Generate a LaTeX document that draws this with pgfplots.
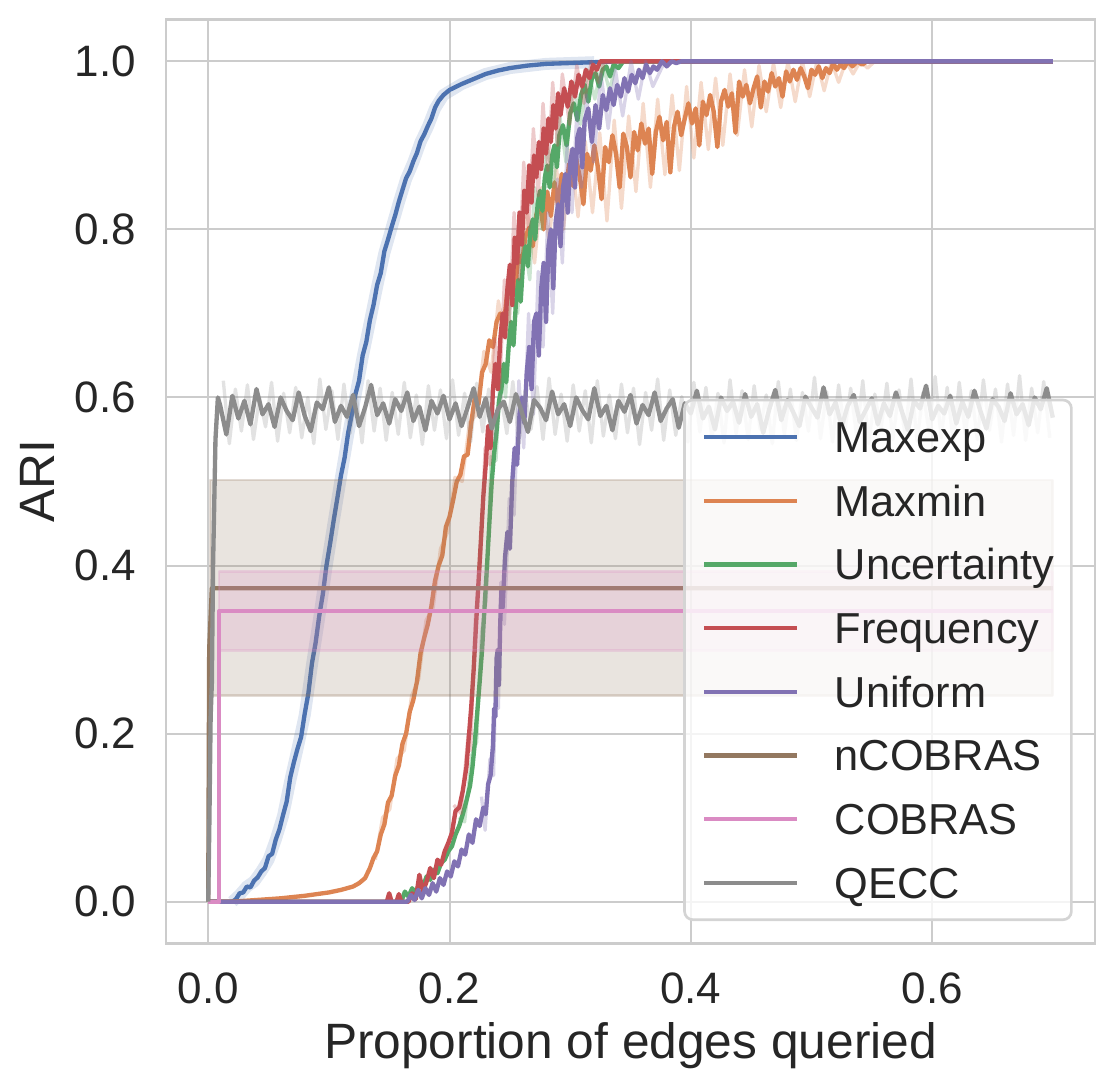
\documentclass[border=0pt]{standalone}
\usepackage{pgfplots}
\pgfplotsset{compat=1.18}
\usepackage{fontspec}
\setmainfont{Liberation Sans}
\definecolor{cMaxexp}{HTML}{4C72B0}
\definecolor{cMaxmin}{HTML}{DD8452}
\definecolor{cUnc}{HTML}{55A868}
\definecolor{cFreq}{HTML}{C44E52}
\definecolor{cUni}{HTML}{8172B3}
\definecolor{cnCOB}{HTML}{937860}
\definecolor{cCOB}{HTML}{DA8BC3}
\definecolor{cQECC}{HTML}{8C8C8C}
\definecolor{gridgray}{HTML}{CCCCCC}
\definecolor{legendgray}{HTML}{D4D4D4}
\definecolor{textgray}{HTML}{262626}
\begin{document}
\begin{tikzpicture}
\begin{axis}[
  scale only axis, width=278.7pt, height=277.3pt,
  xmin=-0.035, xmax=0.735, ymin=-0.05, ymax=1.05,
  xtick={0,0.2,0.4,0.6}, xticklabels={0.0,0.2,0.4,0.6},
  ytick={0,0.2,0.4,0.6,0.8,1.0}, yticklabels={0.0,0.2,0.4,0.6,0.8,1.0},
  major tick length=0pt,
  grid=major, major grid style={line width=0.6pt, color=gridgray},
  axis line style={line width=0.8pt, color=gridgray},
  tick label style={font=\fontsize{13.2}{15}\selectfont, text=textgray, inner sep=0pt},
  yticklabel style={xshift=-8.8pt},
  xticklabel style={yshift=-8.5pt},
  label style={font=\fontsize{14.9}{17}\selectfont, text=textgray},
  xlabel={Proportion of edges queried}, ylabel={ARI},
  xlabel style={at={(axis description cs:0.5,-0.1241)}, anchor=base},
  ylabel style={at={(axis description cs:-0.1195,0.5)}, anchor=base},
  legend style={at={(0.976,0.0245)}, anchor=south east,
    draw=legendgray, line width=0.8pt, rounded corners=2.5pt,
    fill=white, fill opacity=0.8, text opacity=1, draw opacity=1,
    font=\fontsize{13}{15}\selectfont, text=textgray,
    inner xsep=5.25pt, inner ysep=6.45pt, row sep=9.8pt,
    nodes={inner sep=0pt, text height=9.3pt, text depth=0pt},
    /tikz/every odd column/.append style={column sep=10.8pt}},
  legend cell align=left,
  legend image code/.code={\draw[#1, line width=1.3pt, rounded corners=0pt] (0pt,0pt) -- (27.7pt,0pt);},
  every axis plot/.append style={line join=round},
]
% ---------------- Maxexp
\addplot[cMaxexp, line width=3.6pt, opacity=0.18, forget plot] table[row sep=\\] {x y\\
0.020 0.000\\ 0.026 0.008\\ 0.032 0.018\\ 0.038 0.024\\ 0.044 0.036\\ 0.050 0.050\\ 0.056 0.074\\ 0.062 0.102\\ 0.068 0.144\\ 0.074 0.182\\ 0.080 0.222\\ 0.086 0.282\\ 0.092 0.338\\ 0.098 0.398\\ 0.104 0.452\\ 0.110 0.505\\ 0.116 0.556\\ 0.122 0.602\\ 0.128 0.648\\ 0.134 0.690\\ 0.140 0.732\\ 0.146 0.772\\ 0.152 0.802\\ 0.158 0.832\\ 0.164 0.860\\ 0.170 0.880\\ 0.176 0.904\\ 0.182 0.922\\ 0.188 0.944\\ 0.195 0.960\\ 0.210 0.973\\ 0.230 0.985\\ 0.250 0.992\\ 0.280 0.997\\ 0.320 0.999\\
};
\addplot[cMaxexp, line width=1.3pt] table[row sep=\\] {x y\\
0 0\\ 0.020 0.000\\ 0.023 0.003\\ 0.026 0.010\\ 0.029 0.011\\ 0.032 0.018\\ 0.035 0.017\\ 0.038 0.025\\ 0.041 0.029\\ 0.044 0.036\\ 0.047 0.040\\ 0.050 0.054\\ 0.053 0.057\\ 0.056 0.074\\ 0.059 0.086\\ 0.062 0.103\\ 0.065 0.119\\ 0.068 0.148\\ 0.071 0.166\\ 0.074 0.182\\ 0.077 0.196\\ 0.080 0.224\\ 0.083 0.248\\ 0.086 0.284\\ 0.089 0.308\\ 0.092 0.340\\ 0.095 0.366\\ 0.098 0.400\\ 0.101 0.426\\ 0.104 0.454\\ 0.107 0.480\\ 0.110 0.507\\ 0.113 0.528\\ 0.116 0.558\\ 0.119 0.580\\ 0.122 0.604\\ 0.125 0.620\\ 0.128 0.650\\ 0.131 0.666\\ 0.134 0.692\\ 0.137 0.710\\ 0.140 0.734\\ 0.143 0.748\\ 0.146 0.774\\ 0.149 0.788\\ 0.152 0.803\\ 0.155 0.817\\ 0.158 0.833\\ 0.161 0.847\\ 0.164 0.861\\ 0.167 0.869\\ 0.170 0.881\\ 0.173 0.891\\ 0.176 0.905\\ 0.179 0.913\\ 0.182 0.923\\ 0.185 0.932\\ 0.188 0.945\\ 0.191 0.953\\ 0.195 0.960\\ 0.200 0.966\\ 0.210 0.973\\ 0.220 0.979\\ 0.230 0.985\\ 0.240 0.989\\ 0.250 0.992\\ 0.265 0.995\\ 0.280 0.997\\ 0.300 0.998\\ 0.320 0.999\\ 0.340 1.000\\ 0.700 1.000\\
};
\addlegendentry{Maxexp}
% ---------------- Maxmin
\addplot[cMaxmin, line width=1.0pt, opacity=0.3, forget plot] table[row sep=\\] {x y\\
0.1385 0.050\\ 0.1445 0.100\\ 0.1505 0.110\\ 0.1565 0.170\\ 0.1625 0.180\\ 0.1685 0.245\\ 0.1745 0.265\\ 0.1805 0.335\\ 0.1865 0.350\\ 0.1925 0.420\\ 0.1985 0.440\\ 0.2045 0.505\\ 0.2105 0.500\\ 0.2165 0.570\\ 0.2225 0.580\\ 0.2285 0.655\\ 0.2345 0.630\\ 0.2405 0.715\\ 0.2465 0.670\\ 0.2525 0.760\\ 0.2585 0.730\\ 0.2645 0.820\\ 0.2705 0.760\\ 0.2765 0.850\\ 0.2825 0.785\\ 0.2885 0.875\\ 0.2945 0.800\\ 0.3005 0.895\\ 0.3065 0.815\\ 0.3125 0.905\\ 0.3185 0.820\\ 0.3245 0.915\\ 0.3305 0.810\\ 0.3365 0.930\\ 0.3425 0.825\\ 0.3485 0.935\\ 0.3545 0.845\\ 0.3605 0.950\\ 0.3665 0.850\\ 0.3725 0.955\\ 0.3785 0.865\\ 0.3845 0.960\\ 0.3905 0.870\\ 0.3965 0.970\\ 0.4025 0.885\\ 0.4085 0.975\\ 0.4145 0.895\\ 0.4205 0.980\\ 0.4265 0.900\\ 0.4325 0.985\\ 0.4385 0.912\\ 0.4445 0.990\\ 0.4505 0.922\\ 0.4565 0.995\\ 0.4625 0.940\\ 0.4685 0.998\\ 0.4745 0.945\\ 0.4805 1.000\\ 0.4865 0.952\\ 0.4925 1.000\\ 0.4985 0.958\\ 0.5045 1.000\\ 0.5105 0.965\\ 0.5165 1.000\\ 0.5225 0.975\\ 0.5285 1.000\\ 0.5345 0.985\\ 0.5405 1.000\\ 0.5465 0.992\\ 0.5525 1.000\\
};
\addplot[cMaxmin, line width=1.3pt] table[row sep=\\] {x y\\
0 0\\ 0.020 0.000\\ 0.040 0.002\\ 0.060 0.004\\ 0.080 0.007\\ 0.100 0.011\\ 0.110 0.014\\ 0.120 0.018\\ 0.125 0.022\\ 0.130 0.028\\ 0.134 0.040\\ 0.137 0.052\\ 0.140 0.060\\ 0.143 0.080\\ 0.146 0.092\\ 0.149 0.118\\ 0.152 0.126\\ 0.155 0.150\\ 0.158 0.162\\ 0.161 0.188\\ 0.164 0.200\\ 0.167 0.226\\ 0.170 0.240\\ 0.173 0.262\\ 0.176 0.296\\ 0.179 0.314\\ 0.182 0.330\\ 0.185 0.352\\ 0.188 0.382\\ 0.191 0.400\\ 0.194 0.412\\ 0.197 0.446\\ 0.200 0.458\\ 0.203 0.478\\ 0.206 0.500\\ 0.209 0.508\\ 0.212 0.530\\ 0.215 0.532\\ 0.218 0.570\\ 0.221 0.600\\ 0.224 0.592\\ 0.227 0.630\\ 0.230 0.640\\ 0.233 0.668\\ 0.236 0.660\\ 0.239 0.690\\ 0.242 0.700\\ 0.245 0.686\\ 0.248 0.728\\ 0.251 0.740\\ 0.254 0.722\\ 0.257 0.770\\ 0.260 0.760\\ 0.263 0.792\\ 0.266 0.802\\ 0.269 0.780\\ 0.272 0.818\\ 0.275 0.830\\ 0.278 0.800\\ 0.281 0.845\\ 0.284 0.816\\ 0.287 0.856\\ 0.290 0.828\\ 0.293 0.866\\ 0.296 0.836\\ 0.299 0.878\\ 0.302 0.852\\ 0.305 0.884\\ 0.308 0.862\\ 0.311 0.830\\ 0.314 0.890\\ 0.317 0.870\\ 0.320 0.900\\ 0.323 0.874\\ 0.326 0.836\\ 0.329 0.898\\ 0.332 0.880\\ 0.335 0.912\\ 0.338 0.890\\ 0.341 0.850\\ 0.344 0.914\\ 0.347 0.898\\ 0.350 0.862\\ 0.353 0.916\\ 0.356 0.894\\ 0.359 0.926\\ 0.362 0.902\\ 0.365 0.920\\ 0.368 0.866\\ 0.371 0.916\\ 0.374 0.934\\ 0.377 0.906\\ 0.380 0.928\\ 0.383 0.868\\ 0.386 0.922\\ 0.389 0.940\\ 0.392 0.912\\ 0.395 0.932\\ 0.398 0.950\\ 0.401 0.926\\ 0.404 0.944\\ 0.407 0.900\\ 0.410 0.952\\ 0.413 0.936\\ 0.416 0.960\\ 0.419 0.940\\ 0.422 0.898\\ 0.425 0.952\\ 0.428 0.966\\ 0.431 0.946\\ 0.434 0.962\\ 0.437 0.915\\ 0.440 0.976\\ 0.443 0.958\\ 0.446 0.972\\ 0.449 0.950\\ 0.452 0.968\\ 0.455 0.982\\ 0.458 0.945\\ 0.461 0.976\\ 0.464 0.964\\ 0.467 0.986\\ 0.470 0.970\\ 0.473 0.980\\ 0.476 0.958\\ 0.479 0.988\\ 0.482 0.976\\ 0.485 0.990\\ 0.488 0.978\\ 0.491 0.992\\ 0.494 0.982\\ 0.497 0.968\\ 0.500 0.990\\ 0.503 0.984\\ 0.506 0.994\\ 0.509 0.980\\ 0.512 0.992\\ 0.515 0.986\\ 0.518 0.998\\ 0.521 0.990\\ 0.524 0.996\\ 0.527 0.992\\ 0.530 1.000\\ 0.534 0.994\\ 0.538 1.000\\ 0.542 0.996\\ 0.546 1.000\\ 0.700 1.000\\
};
\addlegendentry{Maxmin}
% ---------------- Uncertainty
\addplot[cUnc, line width=1.0pt, opacity=0.3, forget plot] table[row sep=\\] {x y\\
0.2075 0.100\\ 0.2125 0.095\\ 0.2185 0.175\\ 0.2225 0.190\\ 0.2265 0.320\\ 0.2305 0.360\\ 0.2345 0.530\\ 0.2385 0.525\\ 0.2425 0.640\\ 0.2465 0.600\\ 0.2505 0.720\\ 0.2565 0.700\\ 0.2605 0.800\\ 0.2665 0.740\\ 0.2705 0.850\\ 0.2765 0.800\\ 0.2805 0.905\\ 0.2865 0.850\\ 0.2905 0.945\\ 0.2965 0.880\\ 0.3025 0.975\\ 0.3085 0.925\\ 0.3145 0.990\\ 0.3205 0.955\\ 0.3265 1.000\\ 0.3325 0.965\\ 0.3385 1.000\\
};
\addplot[cUnc, line width=1.3pt] table[row sep=\\] {x y\\
0 0\\ 0.160 0.000\\ 0.163 0.012\\ 0.166 0.006\\ 0.169 0.016\\ 0.172 0.010\\ 0.175 0.022\\ 0.178 0.018\\ 0.181 0.030\\ 0.184 0.026\\ 0.187 0.038\\ 0.190 0.034\\ 0.193 0.046\\ 0.196 0.050\\ 0.199 0.060\\ 0.202 0.066\\ 0.205 0.080\\ 0.208 0.090\\ 0.211 0.104\\ 0.214 0.120\\ 0.217 0.138\\ 0.219 0.160\\ 0.221 0.190\\ 0.223 0.226\\ 0.225 0.262\\ 0.227 0.300\\ 0.229 0.350\\ 0.231 0.398\\ 0.233 0.450\\ 0.235 0.500\\ 0.237 0.534\\ 0.239 0.560\\ 0.241 0.596\\ 0.243 0.610\\ 0.245 0.640\\ 0.247 0.618\\ 0.249 0.660\\ 0.251 0.690\\ 0.253 0.662\\ 0.255 0.712\\ 0.257 0.740\\ 0.259 0.714\\ 0.261 0.762\\ 0.263 0.780\\ 0.265 0.756\\ 0.267 0.800\\ 0.269 0.812\\ 0.271 0.788\\ 0.273 0.830\\ 0.275 0.846\\ 0.277 0.822\\ 0.279 0.862\\ 0.281 0.876\\ 0.283 0.850\\ 0.285 0.888\\ 0.287 0.900\\ 0.289 0.874\\ 0.291 0.912\\ 0.294 0.924\\ 0.297 0.900\\ 0.300 0.938\\ 0.303 0.950\\ 0.306 0.930\\ 0.309 0.960\\ 0.312 0.972\\ 0.315 0.952\\ 0.318 0.980\\ 0.321 0.986\\ 0.324 0.970\\ 0.327 0.990\\ 0.330 0.994\\ 0.333 0.982\\ 0.336 0.996\\ 0.340 0.992\\ 0.344 1.000\\ 0.700 1.000\\
};
\addlegendentry{Uncertainty}
% ---------------- Frequency
\addplot[cFreq, line width=1.0pt, opacity=0.3, forget plot] table[row sep=\\] {x y\\
0.2035 0.115\\ 0.2095 0.105\\ 0.2155 0.200\\ 0.2175 0.180\\ 0.2215 0.340\\ 0.2255 0.400\\ 0.2295 0.540\\ 0.2335 0.520\\ 0.2375 0.670\\ 0.2415 0.610\\ 0.2455 0.740\\ 0.2495 0.690\\ 0.2535 0.820\\ 0.2575 0.740\\ 0.2615 0.880\\ 0.2655 0.800\\ 0.2695 0.920\\ 0.2735 0.840\\ 0.2775 0.950\\ 0.2815 0.870\\ 0.2855 0.975\\ 0.2895 0.900\\ 0.2935 0.985\\ 0.2995 0.925\\ 0.3055 0.995\\ 0.3115 0.950\\ 0.3175 1.000\\ 0.3235 0.975\\ 0.3285 1.000\\
};
\addplot[cFreq, line width=1.3pt] table[row sep=\\] {x y\\
0 0\\ 0.148 0.000\\ 0.150 0.010\\ 0.152 0.000\\ 0.156 0.000\\ 0.158 0.009\\ 0.160 0.000\\ 0.166 0.000\\ 0.169 0.010\\ 0.172 0.003\\ 0.175 0.032\\ 0.178 0.012\\ 0.181 0.024\\ 0.184 0.040\\ 0.187 0.028\\ 0.190 0.050\\ 0.193 0.044\\ 0.196 0.060\\ 0.199 0.070\\ 0.202 0.082\\ 0.205 0.108\\ 0.208 0.112\\ 0.211 0.132\\ 0.214 0.160\\ 0.216 0.196\\ 0.218 0.232\\ 0.220 0.276\\ 0.222 0.330\\ 0.224 0.380\\ 0.226 0.430\\ 0.228 0.482\\ 0.230 0.520\\ 0.232 0.566\\ 0.234 0.540\\ 0.236 0.610\\ 0.238 0.640\\ 0.240 0.610\\ 0.242 0.668\\ 0.244 0.700\\ 0.246 0.672\\ 0.248 0.730\\ 0.250 0.758\\ 0.252 0.710\\ 0.254 0.790\\ 0.256 0.760\\ 0.258 0.820\\ 0.260 0.782\\ 0.262 0.846\\ 0.264 0.820\\ 0.266 0.876\\ 0.268 0.832\\ 0.270 0.888\\ 0.272 0.862\\ 0.274 0.904\\ 0.276 0.872\\ 0.278 0.920\\ 0.280 0.890\\ 0.282 0.932\\ 0.284 0.904\\ 0.286 0.948\\ 0.288 0.920\\ 0.290 0.962\\ 0.292 0.936\\ 0.295 0.968\\ 0.298 0.946\\ 0.301 0.976\\ 0.304 0.958\\ 0.307 0.984\\ 0.310 0.970\\ 0.313 0.990\\ 0.316 0.980\\ 0.319 0.996\\ 0.322 0.990\\ 0.325 1.000\\ 0.700 1.000\\
};
\addlegendentry{Frequency}
% ---------------- Uniform
\addplot[cUni, line width=1.0pt, opacity=0.3, forget plot] table[row sep=\\] {x y\\
0.2265 0.125\\ 0.2295 0.085\\ 0.2335 0.170\\ 0.2365 0.150\\ 0.2385 0.280\\ 0.2405 0.230\\ 0.2425 0.380\\ 0.2455 0.330\\ 0.2495 0.480\\ 0.2535 0.460\\ 0.2575 0.620\\ 0.2615 0.540\\ 0.2655 0.700\\ 0.2695 0.580\\ 0.2735 0.750\\ 0.2775 0.660\\ 0.2815 0.820\\ 0.2855 0.700\\ 0.2895 0.860\\ 0.2935 0.760\\ 0.2975 0.900\\ 0.3015 0.820\\ 0.3055 0.940\\ 0.3095 0.850\\ 0.3135 0.960\\ 0.3195 0.880\\ 0.3255 0.985\\ 0.3315 0.920\\ 0.3375 0.990\\ 0.3435 0.935\\ 0.3505 1.000\\ 0.3565 0.955\\ 0.3625 1.000\\ 0.3685 0.970\\ 0.3785 1.000\\
};
\addplot[cUni, line width=1.3pt] table[row sep=\\] {x y\\
0 0\\ 0.165 0.000\\ 0.168 0.008\\ 0.171 0.002\\ 0.174 0.014\\ 0.177 0.004\\ 0.180 0.016\\ 0.183 0.008\\ 0.186 0.022\\ 0.189 0.012\\ 0.192 0.028\\ 0.195 0.020\\ 0.198 0.036\\ 0.201 0.030\\ 0.204 0.048\\ 0.207 0.042\\ 0.210 0.062\\ 0.213 0.056\\ 0.216 0.080\\ 0.219 0.070\\ 0.222 0.098\\ 0.225 0.090\\ 0.228 0.112\\ 0.230 0.104\\ 0.232 0.140\\ 0.234 0.150\\ 0.236 0.186\\ 0.237 0.230\\ 0.238 0.220\\ 0.239 0.290\\ 0.240 0.300\\ 0.241 0.258\\ 0.242 0.330\\ 0.243 0.370\\ 0.244 0.350\\ 0.246 0.410\\ 0.248 0.440\\ 0.250 0.420\\ 0.252 0.500\\ 0.254 0.540\\ 0.256 0.520\\ 0.258 0.580\\ 0.260 0.600\\ 0.262 0.570\\ 0.264 0.630\\ 0.266 0.660\\ 0.268 0.610\\ 0.270 0.690\\ 0.272 0.700\\ 0.274 0.650\\ 0.276 0.730\\ 0.278 0.760\\ 0.280 0.690\\ 0.282 0.780\\ 0.284 0.800\\ 0.286 0.730\\ 0.288 0.810\\ 0.290 0.830\\ 0.292 0.780\\ 0.294 0.850\\ 0.296 0.866\\ 0.298 0.820\\ 0.300 0.880\\ 0.302 0.896\\ 0.304 0.850\\ 0.306 0.910\\ 0.308 0.920\\ 0.310 0.874\\ 0.312 0.930\\ 0.315 0.944\\ 0.318 0.904\\ 0.321 0.948\\ 0.324 0.920\\ 0.327 0.960\\ 0.330 0.942\\ 0.333 0.968\\ 0.336 0.948\\ 0.339 0.972\\ 0.342 0.958\\ 0.345 0.980\\ 0.348 0.964\\ 0.351 0.984\\ 0.354 0.974\\ 0.357 0.990\\ 0.360 0.980\\ 0.363 0.996\\ 0.366 0.986\\ 0.369 0.994\\ 0.372 0.990\\ 0.376 1.000\\ 0.380 0.994\\ 0.384 1.000\\ 0.388 0.998\\ 0.392 1.000\\ 0.700 1.000\\
};
\addlegendentry{Uniform}
% ---------------- nCOBRAS
\addplot[fill=cnCOB, fill opacity=0.2, draw=cnCOB, draw opacity=0.25, line width=0.8pt, forget plot] table[row sep=\\] {x y\\
0.0015 0.245\\ 0.700 0.245\\ 0.700 0.502\\ 0.0015 0.502\\ 0.0015 0.245\\
};
\addplot[cnCOB, line width=1.3pt] table[row sep=\\] {x y\\
0 0\\ 0.0008 0.300\\ 0.003 0.373\\ 0.700 0.373\\
};
\addlegendentry{nCOBRAS}
% ---------------- COBRAS
\addplot[fill=cCOB, fill opacity=0.2, draw=cCOB, draw opacity=0.25, line width=0.8pt, forget plot] table[row sep=\\] {x y\\
0.009 0.299\\ 0.700 0.299\\ 0.700 0.393\\ 0.009 0.393\\ 0.009 0.299\\
};
\addplot[cCOB, line width=1.3pt] table[row sep=\\] {x y\\
0 0\\ 0.009 0.000\\ 0.009 0.3456\\ 0.700 0.3456\\
};
\addlegendentry{COBRAS}
% ---------------- QECC
\addplot[cQECC, line width=1.0pt, opacity=0.25, forget plot] table[row sep=\\] {x y\\
0.0125 0.620\\ 0.0175 0.545\\ 0.0225 0.610\\ 0.0275 0.560\\ 0.0325 0.615\\ 0.0375 0.550\\ 0.0425 0.600\\ 0.0475 0.565\\ 0.0525 0.618\\ 0.0575 0.548\\ 0.0625 0.605\\ 0.0675 0.558\\ 0.0725 0.612\\ 0.0775 0.552\\ 0.0825 0.600\\ 0.0875 0.545\\ 0.0925 0.622\\ 0.0975 0.562\\ 0.1025 0.608\\ 0.1075 0.550\\ 0.1125 0.616\\ 0.1175 0.557\\ 0.1225 0.604\\ 0.1275 0.546\\ 0.1325 0.620\\ 0.1375 0.560\\ 0.1425 0.611\\ 0.1475 0.549\\ 0.1525 0.606\\ 0.1575 0.556\\ 0.1625 0.618\\ 0.1675 0.552\\ 0.1725 0.603\\ 0.1775 0.544\\ 0.1825 0.614\\ 0.1875 0.561\\ 0.1925 0.609\\ 0.1975 0.551\\ 0.2025 0.621\\ 0.2075 0.555\\ 0.2125 0.605\\ 0.2175 0.547\\ 0.2225 0.617\\ 0.2275 0.559\\ 0.2325 0.610\\ 0.2375 0.549\\ 0.2425 0.602\\ 0.2475 0.557\\ 0.2525 0.619\\ 0.2575 0.545\\ 0.2625 0.607\\ 0.2675 0.562\\ 0.2725 0.613\\ 0.2775 0.550\\ 0.2825 0.623\\ 0.2875 0.556\\ 0.2925 0.604\\ 0.2975 0.548\\ 0.3025 0.615\\ 0.3075 0.560\\ 0.3125 0.608\\ 0.3175 0.546\\ 0.3225 0.620\\ 0.3275 0.554\\ 0.3325 0.603\\ 0.3375 0.551\\ 0.3425 0.616\\ 0.3475 0.558\\ 0.3525 0.611\\ 0.3575 0.544\\ 0.3625 0.606\\ 0.3675 0.561\\ 0.3725 0.622\\ 0.3775 0.549\\ 0.3825 0.609\\ 0.3875 0.555\\ 0.3925 0.601\\ 0.3975 0.547\\ 0.4025 0.618\\ 0.4075 0.559\\ 0.4125 0.612\\ 0.4175 0.552\\ 0.4225 0.605\\ 0.4275 0.546\\ 0.4325 0.621\\ 0.4375 0.557\\ 0.4425 0.608\\ 0.4475 0.550\\ 0.4525 0.614\\ 0.4575 0.562\\ 0.4625 0.603\\ 0.4675 0.545\\ 0.4725 0.619\\ 0.4775 0.556\\ 0.4825 0.610\\ 0.4875 0.549\\ 0.4925 0.606\\ 0.4975 0.560\\ 0.5025 0.624\\ 0.5075 0.551\\ 0.5125 0.607\\ 0.5175 0.547\\ 0.5225 0.615\\ 0.5275 0.558\\ 0.5325 0.611\\ 0.5375 0.553\\ 0.5425 0.620\\ 0.5475 0.545\\ 0.5525 0.604\\ 0.5575 0.561\\ 0.5625 0.617\\ 0.5675 0.550\\ 0.5725 0.609\\ 0.5775 0.556\\ 0.5825 0.622\\ 0.5875 0.548\\ 0.5925 0.606\\ 0.5975 0.559\\ 0.6025 0.625\\ 0.6075 0.552\\ 0.6125 0.612\\ 0.6175 0.546\\ 0.6225 0.618\\ 0.6275 0.557\\ 0.6325 0.608\\ 0.6375 0.550\\ 0.6425 0.621\\ 0.6475 0.561\\ 0.6525 0.610\\ 0.6575 0.547\\ 0.6625 0.616\\ 0.6675 0.555\\ 0.6725 0.626\\ 0.6775 0.549\\ 0.6825 0.611\\ 0.6875 0.558\\ 0.6925 0.619\\ 0.6975 0.552\\
};
\addplot[cQECC, line width=1.3pt] table[row sep=\\] {x y\\
0 0\\ 0.001 0.100\\ 0.002 0.220\\ 0.003 0.260\\ 0.004 0.400\\ 0.006 0.550\\ 0.008 0.600\\
0.010 0.590\\ 0.015 0.556\\ 0.020 0.602\\ 0.025 0.575\\ 0.030 0.596\\ 0.035 0.568\\ 0.040 0.610\\ 0.045 0.580\\ 0.050 0.592\\ 0.055 0.565\\ 0.060 0.600\\ 0.065 0.584\\ 0.070 0.573\\ 0.075 0.606\\ 0.080 0.578\\ 0.085 0.560\\ 0.090 0.594\\ 0.095 0.586\\ 0.100 0.612\\ 0.105 0.571\\ 0.110 0.590\\ 0.115 0.577\\ 0.120 0.603\\ 0.125 0.566\\ 0.130 0.588\\ 0.135 0.615\\ 0.140 0.579\\ 0.145 0.593\\ 0.150 0.569\\ 0.155 0.598\\ 0.160 0.584\\ 0.165 0.606\\ 0.170 0.572\\ 0.175 0.589\\ 0.180 0.561\\ 0.185 0.596\\ 0.190 0.581\\ 0.195 0.602\\ 0.200 0.574\\ 0.205 0.593\\ 0.210 0.566\\ 0.215 0.588\\ 0.220 0.611\\ 0.225 0.577\\ 0.230 0.599\\ 0.235 0.563\\ 0.240 0.586\\ 0.245 0.595\\ 0.250 0.571\\ 0.255 0.604\\ 0.260 0.582\\ 0.265 0.559\\ 0.270 0.597\\ 0.275 0.588\\ 0.280 0.573\\ 0.285 0.607\\ 0.290 0.580\\ 0.295 0.592\\ 0.300 0.566\\ 0.305 0.600\\ 0.310 0.585\\ 0.315 0.574\\ 0.320 0.611\\ 0.325 0.578\\ 0.330 0.590\\ 0.335 0.561\\ 0.340 0.596\\ 0.345 0.583\\ 0.350 0.603\\ 0.355 0.569\\ 0.360 0.591\\ 0.365 0.579\\ 0.370 0.606\\ 0.375 0.572\\ 0.380 0.587\\ 0.385 0.598\\ 0.390 0.564\\ 0.395 0.593\\ 0.400 0.581\\ 0.405 0.608\\ 0.410 0.575\\ 0.415 0.589\\ 0.420 0.562\\ 0.425 0.600\\ 0.430 0.584\\ 0.435 0.595\\ 0.440 0.570\\ 0.445 0.604\\ 0.450 0.577\\ 0.455 0.592\\ 0.460 0.558\\ 0.465 0.586\\ 0.470 0.609\\ 0.475 0.573\\ 0.480 0.597\\ 0.485 0.582\\ 0.490 0.566\\ 0.495 0.601\\ 0.500 0.588\\ 0.505 0.576\\ 0.510 0.612\\ 0.515 0.580\\ 0.520 0.594\\ 0.525 0.565\\ 0.530 0.590\\ 0.535 0.603\\ 0.540 0.571\\ 0.545 0.585\\ 0.550 0.599\\ 0.555 0.568\\ 0.560 0.593\\ 0.565 0.578\\ 0.570 0.606\\ 0.575 0.583\\ 0.580 0.561\\ 0.585 0.596\\ 0.590 0.587\\ 0.595 0.614\\ 0.600 0.574\\ 0.605 0.590\\ 0.610 0.581\\ 0.615 0.602\\ 0.620 0.569\\ 0.625 0.595\\ 0.630 0.577\\ 0.635 0.608\\ 0.640 0.584\\ 0.645 0.563\\ 0.650 0.598\\ 0.655 0.589\\ 0.660 0.572\\ 0.665 0.605\\ 0.670 0.580\\ 0.675 0.592\\ 0.680 0.567\\ 0.685 0.600\\ 0.690 0.586\\ 0.695 0.611\\ 0.700 0.576\\
};
\addlegendentry{QECC}
\end{axis}
\pgfresetboundingbox
\path ([xshift=-49.8pt,yshift=-43.65pt]current axis.south west) rectangle ([xshift=6pt,yshift=5.8pt]current axis.north east);
\end{tikzpicture}
\end{document}
